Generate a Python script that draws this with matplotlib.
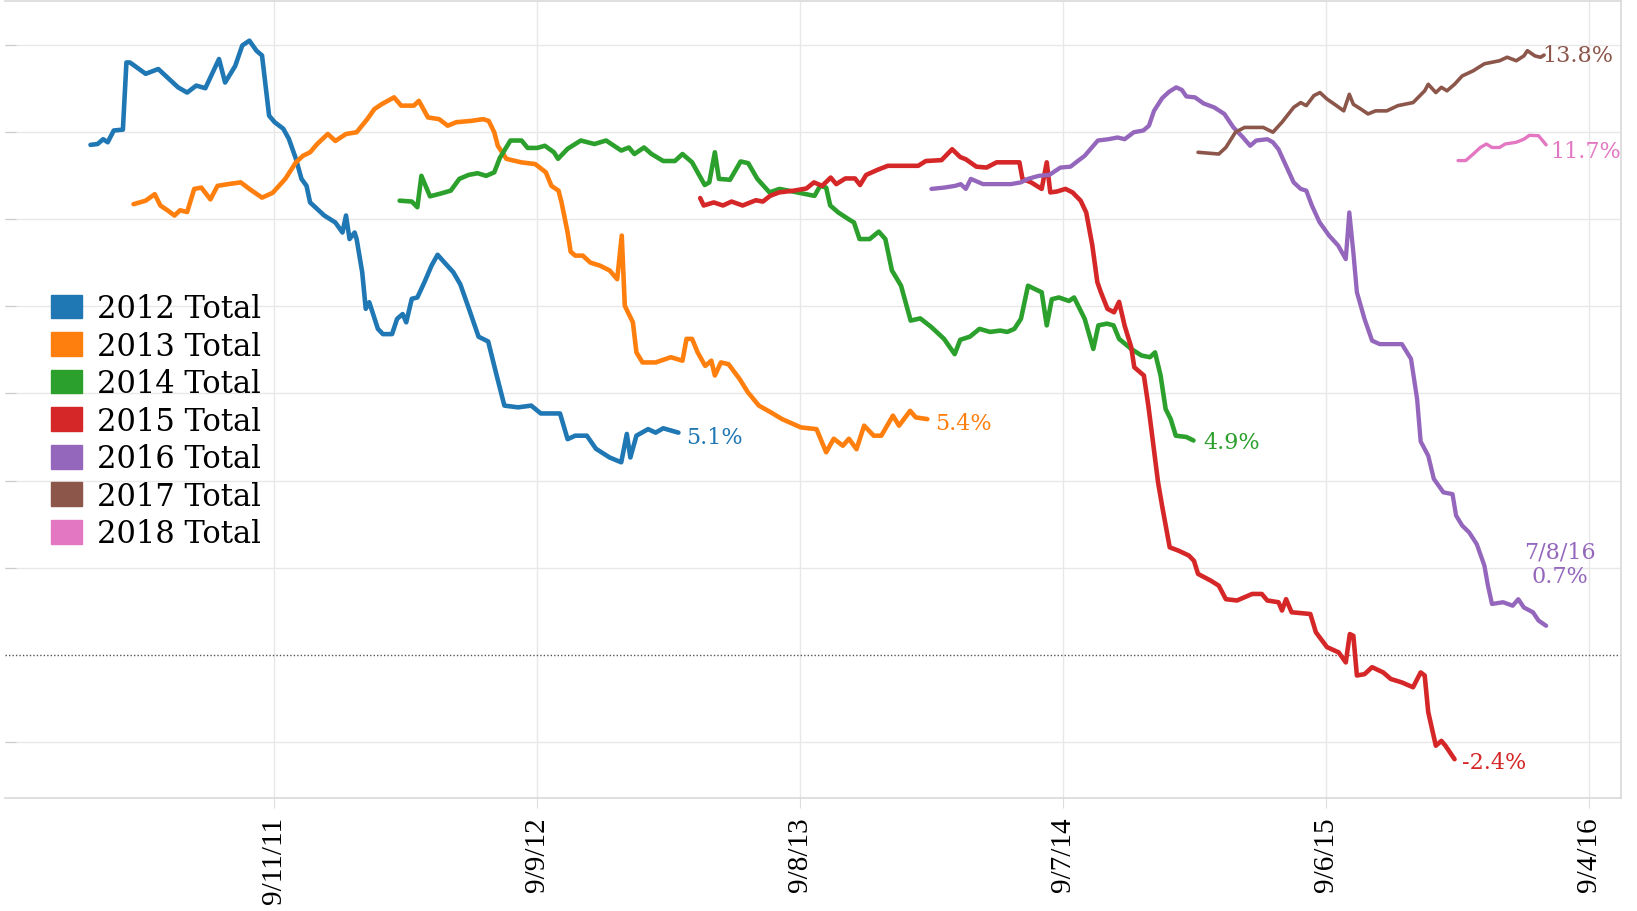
import numpy as np
import pandas as pd
import matplotlib
matplotlib.use("Agg")
import matplotlib.pyplot as plt
from matplotlib.patches import Patch

# semanas contadas desde el 9/11/11 y valor (%)
base = pd.Timestamp("2011-09-11")

weeks_2012 = [-36.2, -34.8, -33.7, -32.8, -31.6, -29.8, -29.1, -28.4, -25.3, -22.8, -18.9, -17.1, -15.3,
              -13.5, -10.8, -9.6, -7.6, -6.2, -4.8, -3.4, -2.3, -0.9, 0.2, 1.9, 3.0, 4.4, 5.5, 6.5, 7.2,
              8.6, 10.0, 12.2, 13.6, 14.3, 15.0, 16.0, 16.4, 17.5, 18.2, 18.9, 20.6, 21.6, 23.4, 24.4,
              25.5, 26.2, 27.3, 28.4, 29.8, 31.2, 32.4, 33.7, 35.5, 36.9, 38.6, 40.5, 42.4, 44.1, 45.6,
              48.3, 50.9, 52.8, 56.6, 58.1, 59.6, 61.9, 63.7, 66.4, 68.7, 69.8, 70.5, 71.7, 74.0, 75.5,
              77.0, 80.0]
vals_2012 = [11.70, 11.72, 11.83, 11.76, 12.03, 12.05, 13.59, 13.59, 13.33, 13.44, 13.02, 12.90, 13.06,
             13.00, 13.67, 13.13, 13.51, 13.98, 14.09, 13.86, 13.75, 12.37, 12.22, 12.07, 11.84, 11.38,
             10.92, 10.76, 10.38, 10.23, 10.08, 9.92, 9.69, 10.08, 9.54, 9.69, 9.54, 8.78, 7.94, 8.09,
             7.48, 7.36, 7.36, 7.71, 7.82, 7.63, 8.17, 8.20, 8.55, 8.93, 9.18, 9.01, 8.78, 8.50, 7.94,
             7.30, 7.19, 6.40, 5.72, 5.68, 5.72, 5.54, 5.54, 4.95, 5.03, 5.03, 4.73, 4.53, 4.42, 5.07,
             4.53, 5.03, 5.18, 5.10, 5.20, 5.10]

weeks_2013 = [-27.7, -25.3, -23.5, -22.4, -21.0, -19.6, -18.5, -17.1, -15.7, -14.3, -12.5, -11.1, -9.0,
              -6.5, -4.8, -2.3, -0.2, 2.3, 4.4, 5.8, 7.2, 8.6, 10.7, 12.2, 14.3, 16.4, 18.5, 19.9, 21.3,
              23.8, 25.2, 27.7, 28.7, 30.5, 32.7, 34.4, 36.1, 39.0, 41.4, 42.5, 43.6, 44.3, 46.0, 48.9,
              51.7, 53.8, 54.9, 56.3, 56.9, 58.1, 58.7, 59.6, 61.1, 62.6, 64.5, 66.4, 67.9, 68.8, 69.4,
              71.0, 71.7, 72.9, 75.5, 78.5, 80.8, 81.6, 82.7, 83.8, 85.3, 86.5, 87.2, 88.4, 89.9, 92.1,
              93.7, 95.9, 98.2, 100.5, 104.2, 107.3, 109.2, 110.7, 112.5, 113.7, 115.2, 116.7, 118.6,
              120.1, 122.4, 123.6, 125.8, 126.9, 129.2]
vals_2013 = [10.34, 10.42, 10.57, 10.31, 10.20, 10.08, 10.20, 10.16, 10.69, 10.72, 10.45, 10.76, 10.80,
             10.84, 10.69, 10.49, 10.60, 10.92, 11.30, 11.45, 11.53, 11.72, 11.95, 11.79, 11.95, 11.99,
             12.29, 12.52, 12.63, 12.79, 12.60, 12.60, 12.71, 12.33, 12.29, 12.14, 12.22, 12.25, 12.29,
             12.25, 11.99, 11.68, 11.38, 11.30, 11.26, 11.07, 10.76, 10.65, 10.38, 9.69, 9.25, 9.16,
             9.16, 9.00, 8.93, 8.82, 8.62, 9.62, 8.01, 7.63, 6.94, 6.71, 6.71, 6.83, 6.75, 7.25, 7.25,
             6.94, 6.63, 6.75, 6.41, 6.71, 6.67, 6.33, 6.03, 5.72, 5.57, 5.41, 5.22, 5.18, 4.65, 4.96,
             4.80, 4.96, 4.72, 5.26, 5.03, 5.03, 5.49, 5.26, 5.60, 5.45, 5.41]

weeks_2014 = [24.9, 27.3, 28.4, 29.2, 30.9, 32.9, 35.0, 36.7, 38.5, 40.3, 42.0, 43.6, 44.7, 46.8, 49.0,
              50.2, 52.1, 53.6, 55.4, 56.2, 58.1, 60.7, 63.4, 65.7, 68.7, 70.2, 71.3, 73.2, 74.7, 77.0,
              79.3, 80.8, 82.7, 83.8, 85.2, 86.1, 87.2, 88.0, 90.2, 92.3, 93.8, 95.6, 98.0, 100.0, 103.5,
              106.9, 108.0, 109.2, 110.0, 111.6, 113.7, 114.7, 115.8, 117.8, 119.6, 120.9, 122.2, 124.0,
              125.9, 127.8, 130.0, 132.5, 134.6, 135.7, 137.6, 139.5, 141.6, 143.6, 145.0, 146.4, 147.7,
              149.1, 150.5, 151.8, 152.8, 153.8, 155.2, 157.2, 158.2, 160.3, 162.0, 163.0, 164.7, 166.0,
              167.1, 169.5, 171.5, 173.2, 174.2, 175.3, 176.3, 177.3, 178.3, 180.4, 181.8]
vals_2014 = [10.42, 10.40, 10.27, 10.99, 10.52, 10.58, 10.65, 10.92, 11.01, 11.05, 10.99, 11.07, 11.40,
             11.80, 11.80, 11.63, 11.63, 11.68, 11.53, 11.38, 11.61, 11.80, 11.72, 11.80, 11.57, 11.64,
             11.49, 11.64, 11.49, 11.33, 11.33, 11.49, 11.30, 11.07, 10.78, 10.84, 11.53, 10.92, 10.90,
             11.32, 11.28, 10.92, 10.61, 10.69, 10.61, 10.53, 10.76, 10.72, 10.31, 10.15, 9.99, 9.92,
             9.54, 9.54, 9.71, 9.54, 8.82, 8.47, 7.67, 7.72, 7.52, 7.25, 6.90, 7.23, 7.30, 7.48, 7.41,
             7.44, 7.41, 7.48, 7.71, 8.47, 8.39, 8.32, 7.56, 8.16, 8.20, 8.12, 8.20, 7.71, 7.02, 7.56,
             7.60, 7.56, 7.25, 7.02, 6.87, 6.83, 6.94, 6.41, 5.64, 5.41, 5.03, 5.00, 4.92]

weeks_2015 = [84.3, 85.0, 87.0, 88.8, 90.5, 92.7, 95.3, 96.7, 98.1, 99.9, 102.8, 105.3, 106.8, 108.4,
              110.1, 111.2, 113.0, 114.9, 115.9, 117.1, 119.4, 121.4, 127.4, 128.9, 132.0, 134.1, 135.7,
              136.8, 138.9, 140.9, 142.9, 147.4, 148.0, 149.7, 151.8, 152.8, 153.5, 154.8, 156.5, 157.9,
              159.5, 160.6, 161.8, 162.8, 163.5, 164.8, 166.1, 167.1, 168.2, 169.5, 170.1, 172.0, 172.9,
              173.8, 174.8, 175.6, 177.1, 178.9, 180.9, 181.9, 182.7, 185.3, 186.8, 188.2, 190.4, 193.4,
              195.3, 196.4, 198.6, 199.3, 200.1, 201.2, 204.9, 206.0, 208.2, 210.5, 211.9, 212.7, 213.4,
              214.1, 215.6, 217.1, 219.3, 220.8, 223.0, 225.2, 226.7, 227.5, 228.2, 229.7, 230.8, 231.6,
              233.4]
vals_2015 = [10.48, 10.31, 10.38, 10.31, 10.40, 10.31, 10.43, 10.40, 10.53, 10.61, 10.65, 10.70, 10.84,
             10.76, 10.95, 10.80, 10.93, 10.93, 10.78, 11.01, 11.13, 11.22, 11.22, 11.33, 11.35, 11.60,
             11.42, 11.37, 11.20, 11.18, 11.30, 11.30, 10.92, 10.84, 10.69, 11.30, 10.61, 10.63, 10.69,
             10.61, 10.42, 10.15, 9.40, 8.55, 8.32, 7.94, 7.86, 8.10, 7.55, 7.06, 6.60, 6.41, 5.70, 4.88,
             3.96, 3.42, 2.47, 2.39, 2.28, 2.16, 1.86, 1.70, 1.59, 1.28, 1.25, 1.40, 1.40, 1.25, 1.21,
             1.02, 1.28, 0.98, 0.94, 0.52, 0.18, 0.06, -0.17, 0.48, 0.44, -0.47, -0.44, -0.28, -0.40,
             -0.55, -0.63, -0.74, -0.40, -0.47, -1.31, -2.08, -1.97, -2.08, -2.39]

weeks_2016 = [130.0, 132.5, 134.7, 135.8, 136.8, 137.8, 140.2, 145.7, 147.7, 149.1, 151.2, 153.3, 155.5,
              157.5, 158.6, 160.3, 162.9, 165.0, 166.8, 168.2, 170.0, 171.9, 173.0, 174.0, 175.6, 177.0,
              178.4, 179.5, 180.4, 182.1, 183.8, 185.9, 187.9, 189.7, 191.6, 193.0, 194.2, 196.4, 197.5,
              198.6, 200.1, 201.6, 203.0, 204.1, 205.2, 206.7, 208.6, 210.4, 211.9, 212.6, 213.4, 214.1,
              215.6, 217.1, 218.6, 223.0, 224.8, 226.0, 226.7, 228.2, 229.3, 231.2, 233.0, 233.7, 234.9,
              236.3, 237.8, 239.3, 240.0, 240.8, 243.0, 244.9, 246.0, 247.1, 248.9, 250.0, 251.5]
vals_2016 = [10.69, 10.72, 10.76, 10.80, 10.69, 10.92, 10.80, 10.80, 10.84, 10.92, 10.99, 11.01, 11.18,
             11.20, 11.30, 11.45, 11.80, 11.83, 11.87, 11.83, 11.99, 12.03, 12.14, 12.48, 12.77, 12.92,
             13.02, 12.96, 12.81, 12.79, 12.65, 12.56, 12.41, 12.10, 11.87, 11.68, 11.80, 11.83, 11.76,
             11.60, 11.22, 10.84, 10.69, 10.65, 10.31, 9.93, 9.62, 9.39, 9.08, 10.15, 9.23, 8.32, 7.71,
             7.21, 7.13, 7.13, 6.79, 5.87, 4.90, 4.57, 4.04, 3.73, 3.69, 3.20, 2.97, 2.81, 2.54, 2.05,
             1.59, 1.17, 1.21, 1.13, 1.28, 1.09, 0.98, 0.79, 0.67]

weeks_2017 = [182.7, 186.8, 188.2, 190.1, 191.9, 195.6, 197.5, 199.3, 201.6, 203.0, 204.1, 205.6, 206.8,
              208.2, 209.7, 211.5, 212.6, 213.4, 214.9, 216.3, 217.8, 220.0, 222.2, 225.2, 227.5, 228.2,
              229.7, 230.8, 231.9, 233.4, 234.9, 237.1, 239.3, 242.3, 243.8, 245.6, 247.1, 247.8, 249.3,
              250.4, 251.1]
vals_2017 = [11.53, 11.49, 11.64, 11.99, 12.10, 12.10, 11.99, 12.22, 12.56, 12.67, 12.60, 12.83, 12.90,
             12.75, 12.63, 12.48, 12.86, 12.63, 12.52, 12.41, 12.48, 12.48, 12.60, 12.67, 12.94, 13.09,
             12.90, 13.02, 12.94, 13.09, 13.28, 13.40, 13.56, 13.63, 13.71, 13.63, 13.74, 13.86, 13.74,
             13.71, 13.76]

weeks_2018 = [234.1, 235.6, 237.1, 238.5, 239.7, 240.8, 242.3, 243.4, 245.6, 247.1, 248.2, 250.0, 250.8, 251.5]
vals_2018 = [11.34, 11.34, 11.49, 11.64, 11.72, 11.64, 11.64, 11.72, 11.76, 11.83, 11.92, 11.91, 11.80, 11.70]

series_names = ["2012 Total", "2013 Total", "2014 Total", "2015 Total", "2016 Total", "2017 Total", "2018 Total"]
end_labels = ["5.1%", "5.4%", "4.9%", "-2.4%", "7/8/16\n0.7%", "13.8%", "11.7%"]
tick_dates = ["2011-09-11", "2012-09-09", "2013-09-08", "2014-09-07", "2015-09-06", "2016-09-04"]
tick_labels = ["9/11/11", "9/9/12", "9/8/13", "9/7/14", "9/6/15", "9/4/16"]

colores = ["#1f77b4", "#ff7f0e", "#2ca02c", "#d62728", "#9467bd", "#8c564b", "#e377c2"]
grosores = [3.3, 3.3, 3.3, 3.3, 3.1, 2.6, 2.4]
# desplazamiento de cada etiqueta final (pixeles)
offsets = [(8, -4), (8, -4), (10, -2), (7, -3), (14, 62), (-2, 0), (4, -6)]

all_weeks = [weeks_2012, weeks_2013, weeks_2014, weeks_2015, weeks_2016, weeks_2017, weeks_2018]
all_vals = [vals_2012, vals_2013, vals_2014, vals_2015, vals_2016, vals_2017, vals_2018]

fig = plt.figure(figsize=(16.37, 9.12), dpi=100)
ax = fig.add_axes([5 / 1637, 113 / 912, 1616 / 1637, 797 / 912])

for semanas, valores, nombre, color, lw, etiqueta, off in zip(all_weeks, all_vals, series_names,
                                                              colores, grosores, end_labels, offsets):
    fechas = base + pd.to_timedelta(np.array(semanas) * 7, unit="D")
    ax.plot(fechas, valores, color=color, lw=lw, solid_joinstyle="round", solid_capstyle="round", zorder=3)
    if "\n" in etiqueta:
        ax.annotate(etiqueta, (fechas[-1], valores[-1]), xytext=off, textcoords="offset pixels",
                    ha="center", va="center", multialignment="center", linespacing=1.1,
                    color=color, fontsize=16, family="DejaVu Serif")
    else:
        ax.annotate(etiqueta, (fechas[-1], valores[-1]), xytext=off, textcoords="offset pixels",
                    ha="left", va="center", color=color, fontsize=16, family="DejaVu Serif", zorder=2)

# linea del cero punteada
ax.axhline(0, color="#555555", lw=1, ls=(0, (1, 1.5)), zorder=2)

ax.set_ylim(-3.28, 15.0)
ax.set_yticks([-2, 2, 4, 6, 8, 10, 12, 14])
ax.set_yticklabels([])
ax.grid(axis="y", color="#e8e8e8", lw=1)
ax.tick_params(axis="y", direction="in", length=8, color="#cccccc", left=True)

xt = pd.to_datetime(tick_dates)
ax.set_xticks(xt)
ax.set_xticklabels(tick_labels, rotation=90, family="Liberation Serif", fontsize=21)
ax.set_xlim(base - pd.Timedelta(weeks=53.1), base + pd.Timedelta(weeks=266.3))
ax.grid(axis="x", color="#e8e8e8", lw=1)
ax.tick_params(axis="x", direction="out", length=7, color="#dddddd", pad=6)

for lado in ["top", "right", "bottom"]:
    ax.spines[lado].set_color("#d9d9d9")
    ax.spines[lado].set_linewidth(1.2)
ax.spines["left"].set_visible(False)

# leyenda con cuadrados de color
handles = [Patch(facecolor=c, edgecolor=c) for c in colores]
ax.legend(handles, series_names, loc="upper left", bbox_to_anchor=(51 / 1637, 1 - 294 / 912),
          bbox_transform=fig.transFigure, frameon=False, borderpad=0, borderaxespad=0,
          handlelength=1.0, handleheight=0.82, handletextpad=0.5, labelspacing=0.215,
          prop={"family": "DejaVu Serif", "size": 22})

fig.savefig("out.png", dpi=100)
